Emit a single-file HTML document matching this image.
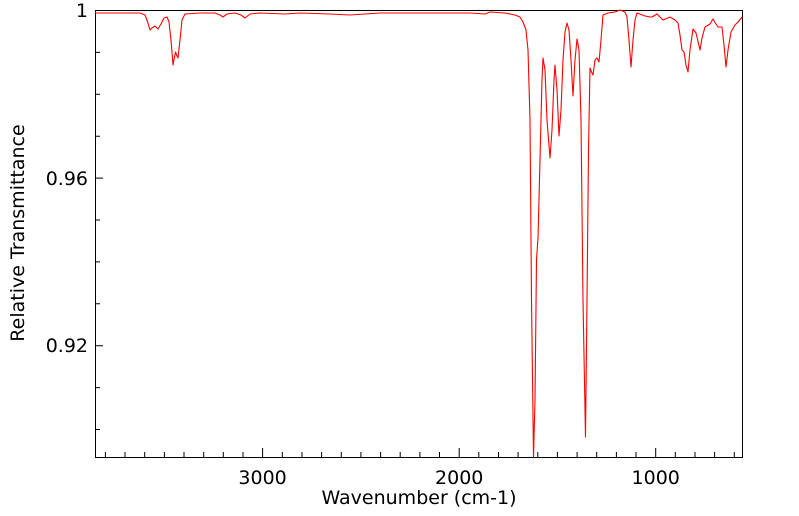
<!DOCTYPE html>
<html><head><style>body{margin:0;background:#fff}svg{display:block}text{font-family:"DejaVu Sans","Liberation Sans",sans-serif;font-size:19px;fill:#000}</style></head><body>
<svg width="799" height="516" xmlns="http://www.w3.org/2000/svg">
<rect x="95.5" y="10.5" width="647" height="447" fill="none" stroke="#000" stroke-width="1"/>
<g stroke="#000" stroke-width="1">
<path d="M95 10.5h8M95 52.4h5M95 94.3h5M95 136.2h5M95 178.1h8M95 220h5M95 261.9h5M95 303.8h5M95 345.7h8M95 387.6h5M95 429.5h5"/>
<path d="M105.4 457v-5M125 457v-5M144.7 457v-5M164.4 457v-5M184 457v-5M203.7 457v-5M223.3 457v-5M243 457v-5M262.6 457v-9M282.3 457v-5M302 457v-5M321.6 457v-5M341.3 457v-5M360.9 457v-5M380.6 457v-5M400.2 457v-5M419.9 457v-5M439.5 457v-5M459.2 457v-9M478.8 457v-5M498.5 457v-5M518.1 457v-5M537.8 457v-5M557.4 457v-5M577.1 457v-5M596.7 457v-5M616.4 457v-5M636 457v-5M655.7 457v-9M675.3 457v-5M695 457v-5M714.6 457v-5M734.3 457v-5"/>
</g>
<polyline fill="none" stroke="#f00" stroke-width="1.1" stroke-linejoin="round" points="95,13 120,13 140,13 145,15 148,23 150,30 152,28 155,26 158,29 161,24 164,18 167,17 169,22 171,40 173,65 174.5,57 175.5,52 177,56 178,58 180,40 182,20 185,14 200,13 215,13 220,15 223,17 227,14 235,13 241,15 245,18 250,14 260,13 285,14 300,13 330,14 350,15 380,13 420,13 450,13 470,13 485,14 490,12 505,13 515,15 520,17 523,22 526,30 528,50 530,120 531.5,300 533.5,457 535,400 536.5,260 538,238 540,160 542,80 543,58 545,70 547,120 550,158 552,130 554,80 555,65 557,90 559,136 561,110 563,60 565,32 567,23 569,30 571,60 573,96 575,60 577,39 579,50 581,120 583,300 585.5,437 587,300 588.5,150 590,68 591.5,72 593,75 595,60 597,58 599,62 601,40 603,15 608,13 615,12 620,10 625,12 627,17 629,40 631,67 633,40 635,20 637,13 645,16 650,17 652,17 657,14 663,20 670,17 675,20 678,23 680,35 682,50 684,52 686,65 688,72 690,50 693,29 696,33 700,50 702,38 705,27 710,24 713,19 716,24 718,27 722,27 724,45 726,67 728,50 731,32 735,25 738,22 742,17"/>
<text x="88" y="17" text-anchor="end">1</text>
<text x="88" y="185" text-anchor="end">0.96</text>
<text x="88" y="352" text-anchor="end">0.92</text>
<text x="262.6" y="484" text-anchor="middle">3000</text>
<text x="459.2" y="484" text-anchor="middle">2000</text>
<text x="655.7" y="484" text-anchor="middle">1000</text>
<text x="419" y="504" text-anchor="middle">Wavenumber (cm-1)</text>
<text transform="translate(24,233) rotate(-90)" text-anchor="middle">Relative Transmittance</text>
</svg>
</body></html>
